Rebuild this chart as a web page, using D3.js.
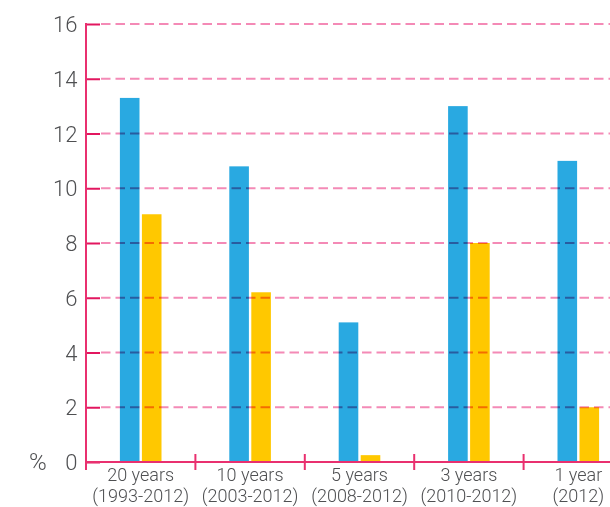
<!DOCTYPE html>
<html>
<head>
<meta charset="utf-8">
<script src="https://cdn.jsdelivr.net/npm/d3@7"></script>
<style>
  html, body { margin: 0; padding: 0; background: #fff; }
  svg { display: block; }
  text { font-family: Roboto, "DejaVu Sans", sans-serif; font-weight: 300; fill: #4f5052; }
</style>
</head>
<body>
<svg id="chart" width="610" height="507"></svg>
<script>
// Periods and their two label lines
const periods = ["20 years", "10 years", "5 years", "3 years", "1 year"];
const periodRanges = ["(1993-2012)", "(2003-2012)", "(2008-2012)", "(2010-2012)", "(2012)"];
// Two series (percent)
const blueValues = [13.3, 10.8, 5.1, 13.0, 11.0];
const yellowValues = [9.05, 6.2, 0.25, 8.0, 2.0];
const yTicks = [0, 2, 4, 6, 8, 10, 12, 14, 16];

const svg = d3.select("#chart");
const x0 = 86, yBase = 462, yTop = 24;
const bandW = 109.4;

const x = d3.scaleBand()
  .domain(periods)
  .range([x0, x0 + bandW * periods.length])
  .paddingInner(0).paddingOuter(0);

const y = d3.scaleLinear().domain([0, 16]).range([yBase, yTop]);

const barW = 19.6, gap = 2.4;
const blue = "#29a9e1", yellow = "#ffc800";
const axisPink = "#e9306f", gridPink = "#f48ab6";

// Bars
const g = svg.append("g");
periods.forEach((p, i) => {
  const cx = x(p) + x.bandwidth() / 2;
  g.append("rect")
    .attr("x", cx - gap / 2 - barW).attr("width", barW)
    .attr("y", y(blueValues[i])).attr("height", y(0) - y(blueValues[i]))
    .attr("fill", blue);
  g.append("rect")
    .attr("x", cx + gap / 2).attr("width", barW)
    .attr("y", y(yellowValues[i])).attr("height", y(0) - y(yellowValues[i]))
    .attr("fill", yellow);
});

// Dashed gridlines drawn over the bars
const grid = svg.append("g").style("mix-blend-mode", "multiply");
yTicks.filter(t => t > 0).forEach(t => {
  grid.append("line")
    .attr("x1", 101).attr("x2", 610)
    .attr("y1", y(t)).attr("y2", y(t))
    .attr("stroke", gridPink).attr("stroke-width", 2)
    .attr("stroke-dasharray", "9.5,5");
});

// Y axis
const yAxis = d3.axisRight(y).tickValues(yTicks).tickSize(14).tickFormat("");
const ya = svg.append("g").attr("transform", `translate(${x0},0)`).call(yAxis);
ya.select(".domain").remove();
ya.selectAll(".tick line").attr("stroke", "#e2175f").attr("stroke-width", 2);
svg.append("line")
  .attr("x1", x0).attr("x2", x0).attr("y1", yTop - 1).attr("y2", yBase + 8)
  .attr("stroke", axisPink).attr("stroke-width", 2);

yTicks.forEach(t => {
  svg.append("text")
    .attr("x", 77.5).attr("y", y(t) + 8)
    .attr("text-anchor", "end")
    .attr("font-size", 22)
    .text(t);
});
svg.append("text").attr("x", 29).attr("y", y(0) + 8)
  .attr("font-size", 24).text("%");

// X axis
svg.append("line")
  .attr("x1", x0).attr("x2", 610).attr("y1", yBase).attr("y2", yBase)
  .attr("stroke", axisPink).attr("stroke-width", 2.2);
periods.slice(1).forEach(p => {
  svg.append("line")
    .attr("x1", x(p)).attr("x2", x(p))
    .attr("y1", yBase - 8).attr("y2", yBase + 8)
    .attr("stroke", axisPink).attr("stroke-width", 2);
});

periods.forEach((p, i) => {
  const cx = x(p) + x.bandwidth() / 2;
  svg.append("text").attr("x", cx).attr("y", 481)
    .attr("text-anchor", "middle").attr("font-size", 18).text(p);
  svg.append("text").attr("x", cx).attr("y", 502)
    .attr("text-anchor", "middle").attr("font-size", 18).text(periodRanges[i]);
});
</script>
</body>
</html>
